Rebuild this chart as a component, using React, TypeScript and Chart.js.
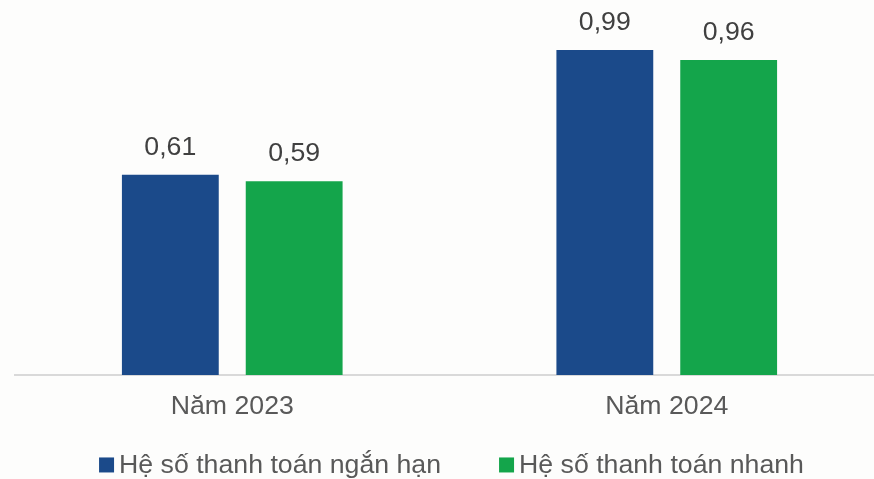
import React, { useEffect, useRef } from "react";
import { Chart, registerables } from "chart.js";

Chart.register(...registerables);

const categories = ["Năm 2023", "Năm 2024"];
const seriesNames = ["Hệ số thanh toán ngắn hạn", "Hệ số thanh toán nhanh"];
const shortTermRatio = [0.61, 0.99];
const quickRatio = [0.59, 0.96];
const colors = ["#1b4a8a", "#14a54b"];

const FONT = "'Liberation Sans', Arial, sans-serif";
const FONT_SIZE = 26.7;

const valueLabels = {
  id: "valueLabels",
  afterDatasetsDraw(chart: any) {
    const ctx = chart.ctx;
    ctx.save();
    ctx.font = `${FONT_SIZE}px ${FONT}`;
    ctx.fillStyle = "#404040";
    ctx.textAlign = "center";
    ctx.textBaseline = "alphabetic";
    chart.data.datasets.forEach((ds: any, di: number) => {
      const meta = chart.getDatasetMeta(di);
      meta.data.forEach((bar: any, i: number) => {
        const v = ds.data[i] as number;
        ctx.fillText(v.toFixed(2).replace(".", ","), bar.x, bar.y - 20);
      });
    });
    ctx.restore();
  },
};

const customLegend = {
  id: "customLegend",
  afterDraw(chart: any) {
    const ctx = chart.ctx;
    ctx.save();
    ctx.font = `${FONT_SIZE}px ${FONT}`;
    ctx.textBaseline = "middle";
    ctx.textAlign = "left";
    const box = 15;
    const gapBoxText = 5;
    const gapItems = 58;
    const items = chart.data.datasets.map((ds: any) => ({
      text: ds.label as string,
      color: ds.backgroundColor as string,
      w: ctx.measureText(ds.label).width,
    }));
    const total = items.reduce((s: number, it: any) => s + box + gapBoxText + it.w, 0) + gapItems * (items.length - 1);
    let x = (chart.chartArea.left + chart.chartArea.right) / 2 + 2 - total / 2;
    const yc = chart.chartArea.bottom + 90;
    items.forEach((it: any) => {
      ctx.fillStyle = it.color;
      ctx.fillRect(x, yc - box / 2, box, box);
      x += box + gapBoxText;
      ctx.fillStyle = "#595959";
      ctx.fillText(it.text, x, yc + 1);
      x += it.w + gapItems;
    });
    ctx.restore();
  },
};

export default function App() {
  const ref = useRef<HTMLCanvasElement>(null);
  useEffect(() => {
    if (!ref.current) return;
    const chart = new Chart(ref.current, {
      type: "bar",
      data: {
        labels: categories,
        datasets: [
          { label: seriesNames[0], data: shortTermRatio, backgroundColor: colors[0] },
          { label: seriesNames[1], data: quickRatio, backgroundColor: colors[1] },
        ],
      },
      options: {
        responsive: false,
        animation: false,
        datasets: { bar: { categoryPercentage: 0.57, barPercentage: 0.782 } },
        layout: { padding: { left: 15, right: 16, top: 14, bottom: 48 } },
        scales: {
          x: {
            grid: { display: false },
            border: { display: true, color: "#d9d9d9", width: 2 },
            ticks: { color: "#595959", font: { family: FONT, size: FONT_SIZE }, padding: 8 },
          },
          y: { display: false, min: 0, max: 1.1 },
        },
        plugins: {
          legend: { display: false },
          tooltip: { enabled: false },
        },
      },
      plugins: [valueLabels, customLegend],
    });
    return () => chart.destroy();
  }, []);
  return (
    <div
      style={{
        position: "fixed",
        top: 0,
        left: 0,
        width: 874,
        height: 479,
        overflow: "hidden",
        background: "#fdfdfc",
      }}
    >
      <canvas ref={ref} width={900} height={479} style={{ display: "block" }} />
    </div>
  );
}
